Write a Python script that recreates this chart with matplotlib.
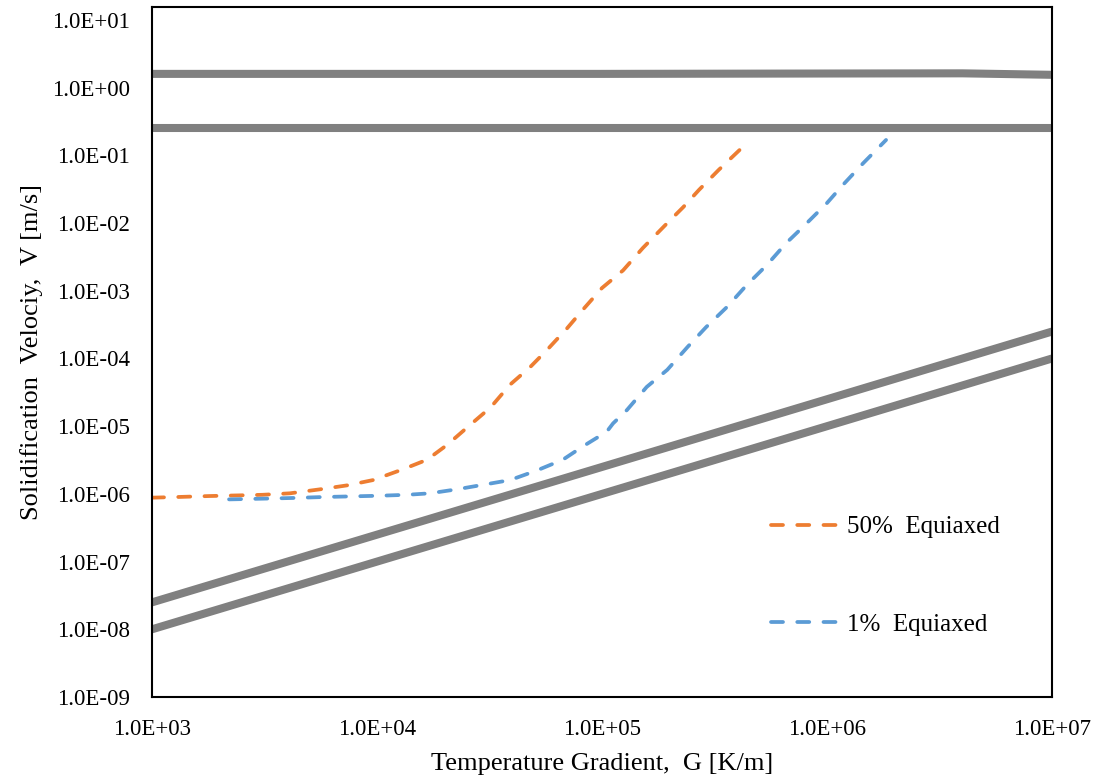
import numpy as np
import matplotlib
matplotlib.use("Agg")
import matplotlib.pyplot as plt

# ---- data ----
# gray limit lines (G in K/m, V in m/s)
upper_h_G = [1e3, 1e4, 1e5, 1e6, 4e6, 1e7]
upper_h_V = [1.6, 1.6, 1.6, 1.62, 1.63, 1.55]
lower_h_G = [1e3, 1e7]
lower_h_V = [0.25, 0.25]
diag1_G = [1e3, 1e7]
diag1_V = [2.5e-8, 2.5e-4]
diag2_G = [1e3, 1e7]
diag2_V = [1.0e-8, 1.0e-4]

# 50% equiaxed
eq50_G = [1.0e3, 1.3e3, 1.8e3, 2.4e3, 3.1e3, 4.1e3, 5.6e3, 7.4e3, 9.6e3, 1.3e4,
          1.67e4, 2.05e4, 2.5e4, 3.2e4, 3.9e4, 4.8e4, 5.7e4, 7.0e4, 8.2e4, 1.0e5,
          1.24e5, 1.52e5, 1.95e5, 2.3e5, 2.7e5, 3.3e5, 4.5e5]
eq50_V = [8.8e-7, 9.0e-7, 9.3e-7, 9.5e-7, 9.7e-7, 1.02e-6, 1.17e-6, 1.34e-6, 1.6e-6, 2.3e-6,
          3.2e-6, 5.3e-6, 9.4e-6, 1.9e-5, 4.1e-5, 7.5e-5, 1.34e-4, 2.8e-4, 5.2e-4, 1.1e-3,
          2.0e-3, 4.3e-3, 1.0e-2, 1.73e-2, 3.1e-2, 6.1e-2, 0.163]

# 1% equiaxed
eq1_G = [2.2e3, 3.1e3, 4.2e3, 5.8e3, 7.8e3, 1.03e4, 1.36e4, 1.72e4, 2.27e4, 3.1e4,
         3.9e4, 5.1e4, 6.7e4, 8.2e4, 1.05e5, 1.12e5, 1.29e5, 1.58e5, 1.95e5, 2.4e5,
         2.9e5, 3.6e5, 4.4e5, 5.4e5, 6.6e5, 7.8e5, 1.0e6, 1.18e6, 1.45e6, 1.83e6]
eq1_V = [8.3e-7, 8.5e-7, 8.7e-7, 9.0e-7, 9.2e-7, 9.4e-7, 9.7e-7, 1.02e-6, 1.17e-6, 1.4e-6,
         1.6e-6, 2.2e-6, 3.2e-6, 5.0e-6, 8.3e-6, 1.1e-5, 1.73e-5, 3.8e-5, 6.8e-5, 1.48e-4,
         2.9e-4, 5.8e-4, 1.22e-3, 2.4e-3, 5.1e-3, 8.7e-3, 1.98e-2, 3.7e-2, 7.7e-2, 0.169]

x_ticks = [1e3, 1e4, 1e5, 1e6, 1e7]
x_labels = ["1.0E+03", "1.0E+04", "1.0E+05", "1.0E+06", "1.0E+07"]
y_ticks = [10.0 ** k for k in range(-9, 2)]
y_labels = ["1.0E-09", "1.0E-08", "1.0E-07", "1.0E-06", "1.0E-05", "1.0E-04",
            "1.0E-03", "1.0E-02", "1.0E-01", "1.0E+00", "1.0E+01"]

plt.rcParams['font.family'] = ['Liberation Serif', 'DejaVu Serif']
plt.rcParams['font.size'] = 16.5

fig = plt.figure(figsize=(11.15, 7.79), dpi=100)
ax = fig.add_axes([152 / 1115, 1 - 697 / 779, 900 / 1115, 690 / 779])

gray = "#808080"
for g, v in [(upper_h_G, upper_h_V), (lower_h_G, lower_h_V),
             (diag1_G, diag1_V), (diag2_G, diag2_V)]:
    ax.plot(g, v, color=gray, lw=5.8, solid_capstyle='butt')

ax.plot(eq50_G, eq50_V, color="#ED7D31", lw=2.7, dashes=(3.2, 3.8),
        dash_capstyle='round', label="50%  Equiaxed")
ax.plot(eq1_G, eq1_V, color="#5B9BD5", lw=2.7, dashes=(3.2, 3.8),
        dash_capstyle='round', label="1%  Equiaxed")

ax.set_xscale('log')
ax.set_yscale('log')
ax.set_xlim(1e3, 1e7)
ax.set_ylim(1e-9, 10 ** (1 + 13 / 67.7))
ax.set_xticks(x_ticks)
ax.set_xticklabels(x_labels)
ax.set_yticks(y_ticks)
ax.set_yticklabels(y_labels)
ax.minorticks_off()
ax.tick_params(axis='both', length=0)
ax.tick_params(axis='y', pad=16)
ax.tick_params(axis='x', pad=16)

for s in ax.spines.values():
    s.set_linewidth(1.5)
    s.set_color('black')

ax.set_xlabel("Temperature Gradient,  G [K/m]", fontsize=19, labelpad=9)
ax.set_ylabel("Solidification  Velociy,  V [m/s]", fontsize=19, labelpad=6)

ax.legend(loc='upper left', bbox_to_anchor=(771 / 1115, 1 - 516 / 779),
          bbox_transform=fig.transFigure, frameon=False, handlelength=3.0,
          handletextpad=0.05, labelspacing=3.0, borderpad=0, borderaxespad=0,
          fontsize=18)

fig.savefig("out.png", dpi=100)
